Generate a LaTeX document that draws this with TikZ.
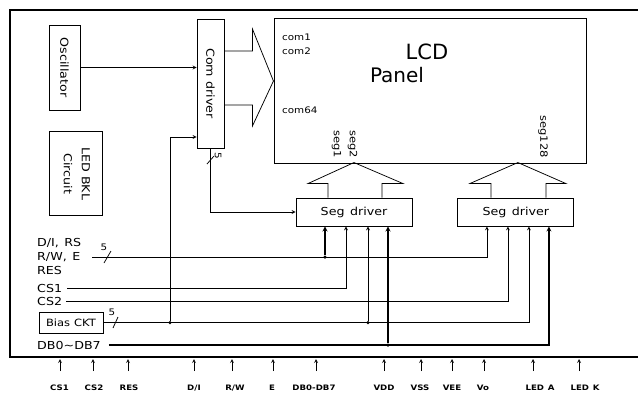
\documentclass[tikz,border=0pt]{standalone}
\usepackage{fontspec}
\usepackage{graphicx}
\usepackage{tikz}
\usetikzlibrary{arrows}
\usetikzlibrary{positioning}
\newfontfamily\cad[FakeStretch=1.15]{DejaVu Sans}
\newfontfamily\lcdfont{DejaVu Sans}
\tikzstyle{block} = [rectangle, draw=black, line width=0.9pt, inner sep=0pt, font=\cad\fontsize{11}{13}\selectfont]
\tikzstyle{sig} = [anchor=west, inner xsep=2pt, inner ysep=0pt, font=\cad\fontsize{11}{13}\selectfont]
\tikzstyle{pin} = [inner sep=0pt, text height=5.5pt, text depth=0pt, font=\cad\bfseries\fontsize{7.5}{8}\selectfont]
\tikzstyle{tag} = [inner sep=0pt, font=\cad\fontsize{9}{10}\selectfont]
\tikzstyle{dot} = [circle, fill=black, inner sep=0pt, minimum size=3.5pt]
\tikzstyle{arrow} = [line width=0.75pt,->,>=stealth]
\tikzstyle{bus} = [line width=1.2pt]
\tikzstyle{wire} = [line width=0.75pt]
\begin{document}
\begin{tikzpicture}[x=1pt, y=-1pt, node distance=1cm]
\useasboundingbox (0,0) rectangle (638,394);

% outer frame, open on the right
\draw [line width=1.1pt] (638,10) -- (10,10) -- (10,357) -- (638,357);

\node (osc) [block, minimum width=31pt, minimum height=85pt] at (64.5,67.5) {\rotatebox{-90}{Oscillator}};
\node (bkl) [block, minimum width=53pt, minimum height=84pt, below=21pt of osc, xshift=11pt] {\rotatebox{-90}{\begin{tabular}{@{}c@{}}LED BKL\\[5pt]Circuit\end{tabular}}};
\node (com) [block, minimum width=27pt, minimum height=129pt] at (210.5,83.5) {\rotatebox{-90}{Com\hspace{0.4em}driver}};
\node (lcd) [block, minimum width=312pt, minimum height=145pt] at (430,90.5) {};
\node (sega) [block, minimum width=116pt, minimum height=28pt] at (354,212) {Seg\hspace{0.5em}driver};
\node (segb) [block, minimum width=116pt, minimum height=28pt, right=45pt of sega] {Seg\hspace{0.5em}driver};
\node (bias) [block, minimum width=64pt, minimum height=21pt, font=\cad\fontsize{10}{12}\selectfont] at (71,322.5) {Bias\hspace{0.4em}CKT};

% panel texts
\node (com1) [tag, anchor=west] at (282,37) {com1};
\node (com2) [tag, anchor=west] at (282,51) {com2};
\node (com64) [tag, anchor=west] at (282,110) {com64};
\node (lcdt) [font=\lcdfont\fontsize{21}{24}\selectfont] at (427,52) {LCD};
\node (panel) [font=\lcdfont\fontsize{20}{24}\selectfont] at (397,75) {Panel};
\node (sga) [tag, font=\cad\fontsize{10}{11}\selectfont, rotate=-90, anchor=east] at (336.5,158) {seg1};
\node (sgb) [tag, font=\cad\fontsize{10}{11}\selectfont, rotate=-90, anchor=east] at (352.5,158) {seg2};
\node (sgc) [tag, font=\cad\fontsize{10}{11}\selectfont, rotate=-90, anchor=east] at (543,158) {seg128};

% hollow arrows into the panel
\draw [wire, shift={(com.east)}] (0,-32.5) -- (28,-32.5) -- (28,-54.5) -- (49,-2.5) -- (28,42.5) -- (28,21.5) -- (0,21.5);
\draw [wire, shift={(sega.north)}] (-26,0) -- (-26,-14) -- (-46,-14) -- (0,-35) -- (49,-14) -- (28,-14) -- (28,0);
\draw [wire, shift={(segb.north)}] (-25,0) -- (-25,-14) -- (-46,-14) -- (2,-35) -- (50,-14) -- (30,-14) -- (30,0);

% left signal labels
\node (dirs) [sig] at (35,243) {D/I,\hspace{0.5em}RS};
\node (rwe) [sig] at (35,257) {R/W,\hspace{0.5em}E};
\node (res) [sig] at (35,270) {RES};
\node (lcsa) [sig] at (35,288) {CS1};
\node (lcsb) [sig] at (35,301) {CS2};
\node (ldb) [sig] at (35,345) {DB0\textasciitilde DB7};

% seg driver inputs
\coordinate (ina1) at ([xshift=-29pt]sega.south);
\coordinate (ina2) at ([xshift=-8pt]sega.south);
\coordinate (ina3) at ([xshift=14pt]sega.south);
\coordinate (ina4) at ([xshift=34pt]sega.south);
\coordinate (inb1) at ([xshift=-29pt]segb.south);
\coordinate (inb2) at ([xshift=-8pt]segb.south);
\coordinate (inb3) at ([xshift=13pt]segb.south);
\coordinate (inb4) at ([xshift=33pt]segb.south);
\coordinate (cin) at (170,137);

\draw [arrow] (osc.east) -- (osc.east -| com.west);
\draw [arrow] (com.south) |- (sega.west);
\draw [arrow] ([xshift=10pt]rwe.east) -| (inb1);
\node (jdi) [dot] at (ina1 |- rwe.east) {};
\draw [arrow, bus] (jdi) -- (ina1);
\draw [arrow] ([xshift=3pt]lcsa.east) -| (ina2);
\draw [arrow] ([xshift=2pt]lcsb.east) -| (inb2);
\draw [arrow] (bias.east) -| (inb3);
\node (jba) [dot] at (ina3 |- bias.east) {};
\draw [arrow] (jba) -- (ina3);
\node (jbc) [dot] at (cin |- bias.east) {};
\draw [arrow] (jbc) |- (com.west |- cin);
\draw [arrow, bus] ([xshift=6pt]ldb.east) -| (inb4);
\node (jdb) [dot] at (ina4 |- ldb.east) {};
\draw [arrow, bus] (jdb) -- (ina4);

% bus width marks
\draw [wire] (104,263) -- (111,251);
\node (fa) [tag] at (104,247) {5};
\draw [wire] (113,328) -- (118,317);
\node (fb) [tag] at (112,312) {5};
\draw [wire] (207,164) -- (214,156);
\node (fc) [tag, rotate=-90] at (218,156) {5};

% module pins
\coordinate (pintop) at (0,359);
\foreach \ax/\lx/\pname/\ptext in {60/59.5/pcsa/CS1, 93/94/pcsb/CS2, 128/129/pres/RES, 194/194/pdi/{D/I}, 232/235/prw/{R/W}, 273/272/pe/E, 316/314/pdb/DB0-DB7, 384/384/pvdd/VDD, 421/420/pvss/VSS, 452/452/pvee/VEE, 484/483/pvo/Vo, 533/540/plda/{LED\hspace{0.5em}A}, 579/585/pldk/{LED\hspace{0.5em}K}} {
  \coordinate (\pname) at (\ax,371);
  \node (\pname lab) [pin] at (\lx,388) {\ptext};
  \draw [arrow] (\pname) -- (\pname |- pintop);
}

\end{tikzpicture}
\end{document}
